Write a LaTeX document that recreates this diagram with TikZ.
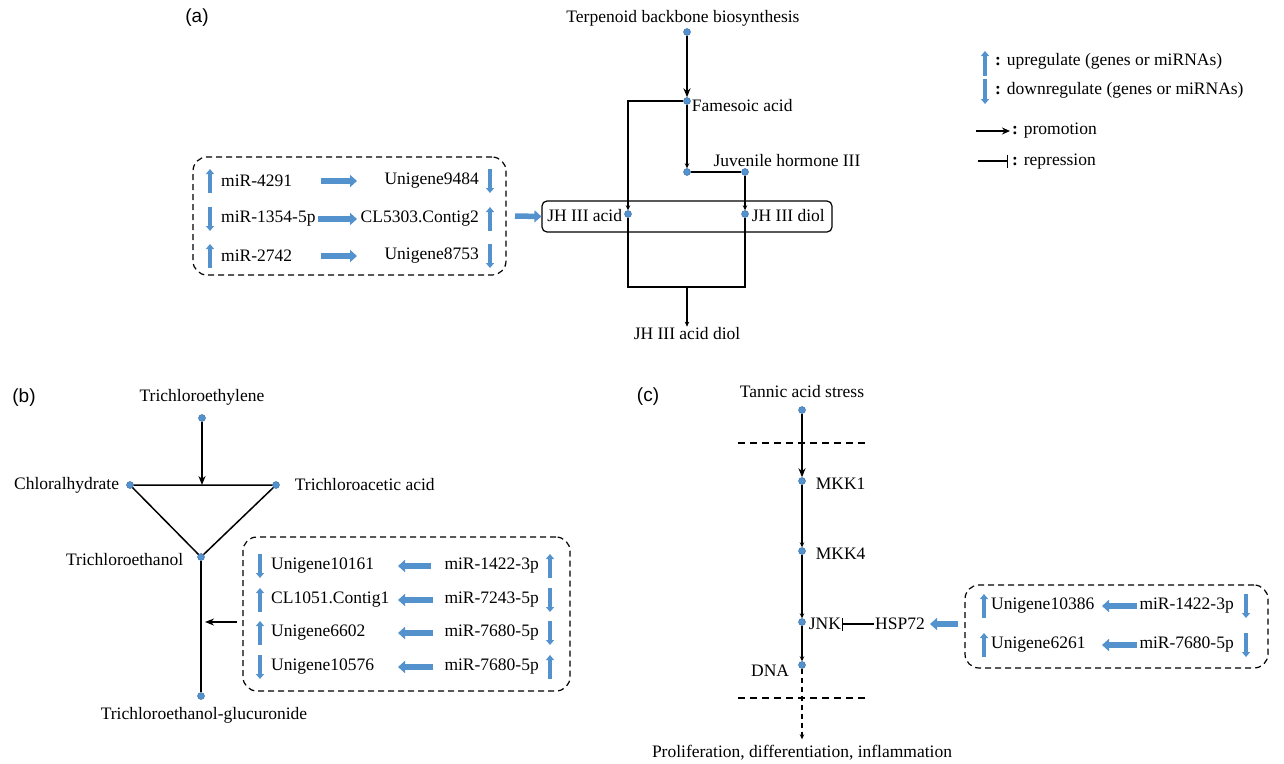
\documentclass[tikz,border=0pt]{standalone}
\usepackage{fontspec}
\setmainfont{Liberation Serif}
\newfontfamily\panelfont{Liberation Sans}
\usetikzlibrary{arrows.meta,positioning}
\definecolor{cblue}{RGB}{84,146,206}
\definecolor{cblueline}{RGB}{52,104,160}
\tikzset{
  pathway/.style={x=1pt,y=-1pt,font=\fontsize{17.5}{20}\selectfont},
  met/.style={circle,fill=cblue,draw=cblueline,line width=0.4pt,inner sep=0pt,minimum size=7pt},
  lab/.style={inner sep=1pt},
  panel/.style={font=\panelfont\fontsize{19}{22}\selectfont,inner sep=0pt},
  conv/.style={line width=1.2pt,-{Stealth[length=5pt,width=4.5pt]}},
  conv main/.style={line width=2pt,-{Stealth[length=9pt,width=7pt]}},
  plain/.style={line width=1.3pt},
  regarr/.style={cblue,line width=4.5pt,-{Triangle[length=5pt,width=8pt]}},
  mirarr/.style={cblue,line width=5.5pt,-{Triangle[length=7pt,width=12pt]}},
  mirbox/.style={draw,line width=1.2pt,dash pattern=on 6pt off 4pt,rounded corners=14pt},
  inhib/.style={line width=1.3pt,-{Bar[width=13pt]}},
  dashline/.style={line width=1.3pt,dash pattern=on 7pt off 5pt},
}

\begin{document}
\begin{tikzpicture}[pathway]
  \useasboundingbox (0,0) rectangle (1284,763);

  % (a) juvenile hormone
  \node[panel] (pa) at (197,18) {(a)};
  \node[met] (terp) at (687,32) {};
  \node[lab,above=1pt of terp,xshift=-4pt] (terpl) {Terpenoid backbone biosynthesis};
  \node[met] (fame) at (687,101) {};
  \node[lab,right=0pt of fame,yshift=-5pt] (famel) {Famesoic acid};
  \node[met] (jh0) at (687,172) {};
  \node[met] (jh) at (745,172) {};
  \node[lab,above=0pt of jh,xshift=42pt] (jhl) {Juvenile hormone III};
  \node[draw,line width=1.2pt,rounded corners=5pt,minimum width=290pt,minimum height=31pt] (jhbox) at (687,216.5) {};
  \node[met] (acid) at (628,214) {};
  \node[met] (diol) at (745,214) {};
  \node[lab,left=1pt of acid,yshift=-2pt] (acidl) {JH III acid};
  \node[lab,right=2pt of diol,yshift=-2pt] (diolal) {JH III diol};
  \coordinate (fameL) at (628,101);
  \coordinate (accL) at (628,287);
  \coordinate (accR) at (745,287);
  \coordinate (accM) at (687,287);
  \node[lab] (acdiol) at (687,334) {JH III acid diol};
  \draw[conv main] (terp) -- (fame);
  \draw[conv] (fame) -- (fameL) -- (acid);
  \draw[conv] (fame) -- (jh0);
  \draw[plain] (jh0) -- (jh);
  \draw[conv] (jh) -- (diol);
  \draw[plain] (acid) -- (accL) -- (accR) -- (diol);
  \draw[conv] (accM) -- (acdiol);

  \node[mirbox,minimum width=313pt,minimum height=118pt] (boxa) at (349.5,216) {};
  \foreach \y/\s/\mir/\t/\gene/\ax [count=\i] in
      {181/1/miR-4291/-1/Unigene9484/321,
       219/-1/miR-1354-5p/1/CL5303.Contig2/318,
       256/1/miR-2742/-1/Unigene8753/321}{
    \draw[regarr] (210,\y+12*\s) -- (210,\y-12*\s);
    \node[lab,anchor=west] (amir\i) at (220,\y) {\mir};
    \node[lab,anchor=east] (agene\i) at (480,\y) {\gene};
    \draw[regarr] (490,\y+12*\t) -- (490,\y-12*\t);
    \draw[mirarr] (\ax,\y) -- (357,\y);
  }
  \coordinate (ain) at (515,216);
  \draw[mirarr] (ain) -- (jhbox.west);

  % legend
  \draw[regarr] (985,76) -- (985,51);
  \node[lab,anchor=west] (lgup) at (994,61) {\textbf{:} upregulate (genes or miRNAs)};
  \draw[regarr] (985,79) -- (985,104);
  \node[lab,anchor=west] (lgdn) at (994,90) {\textbf{:} downregulate (genes or miRNAs)};
  \coordinate (lgp0) at (976,131);
  \coordinate (lgp1) at (1010,131);
  \draw[line width=1.8pt,-{Stealth[length=8pt,width=7pt]}] (lgp0) -- (lgp1);
  \node[lab,anchor=west] (lgpro) at (1011,131) {\textbf{:} promotion};
  \coordinate (lgr0) at (978,161);
  \coordinate (lgr1) at (1008,161);
  \draw[inhib] (lgr0) -- (lgr1);
  \node[lab,anchor=west] (lgrep) at (1011,162) {\textbf{:} repression};

  % (b) trichloroethylene
  \node[panel] (pb) at (24,398) {(b)};
  \node[met] (tce) at (202,418) {};
  \node[lab,above=8pt of tce] (tcel) {Trichloroethylene};
  \node[met] (chl) at (130,485) {};
  \node[met] (tca) at (276,485) {};
  \node[met] (tcoh) at (201,557) {};
  \node[met] (glu) at (201,696) {};
  \node[lab,left=6pt of chl] (chll) {Chloralhydrate};
  \node[lab,right=14pt of tca] (tcal) {Trichloroacetic acid};
  \node[lab,left=13pt of tcoh,yshift=-3pt] (tcohl) {Trichloroethanol};
  \node[lab,below=6pt of glu,xshift=3pt] (glul) {Trichloroethanol-glucuronide};
  \coordinate (tri) at (202,485);
  \draw[conv main] (tce) -- (tri);
  \draw[line width=1.5pt,line join=miter] (chl) -- (tca) -- (tcoh) -- (chl);
  \draw[line width=1.8pt] (tcoh) -- (glu);

  \node[mirbox,minimum width=327pt,minimum height=154pt] (boxb) at (406.5,614) {};
  \foreach \y/\t/\gene/\s/\mir/\ax [count=\i] in
      {566/-1/Unigene10161/1/miR-1422-3p/431,
       600/1/CL1051.Contig1/-1/miR-7243-5p/433,
       633/1/Unigene6602/-1/miR-7680-5p/433,
       667/-1/Unigene10576/1/miR-7680-5p/433}{
    \draw[regarr] (260,\y+12*\t) -- (260,\y-12*\t);
    \node[lab,anchor=west] (bgene\i) at (270,\y) {\gene};
    \node[lab,anchor=east] (bmir\i) at (540,\y) {\mir};
    \draw[regarr] (550,\y+12*\s) -- (550,\y-12*\s);
    \draw[mirarr] (\ax,\y) -- (398,\y);
  }
  \coordinate (bin) at (237,622);
  \coordinate (bhit) at (201,622);
  \draw[conv main,shorten >=4pt] (bin) -- (bhit);

  % (c) tannic acid
  \node[panel] (pc) at (648,397) {(c)};
  \node[met] (tan) at (802,410) {};
  \node[lab,above=7pt of tan] (tanl) {Tannic acid stress};
  \node[met] (mkk1) at (802,481) {};
  \node[met] (mkk4) at (802,551) {};
  \node[met] (jnk) at (802,622) {};
  \node[met] (dna) at (802,665) {};
  \node[lab,right=9pt of mkk1,yshift=-3pt] (mkk1l) {MKK1};
  \node[lab,right=9pt of mkk4,yshift=-3pt] (mkk4l) {MKK4};
  \node[lab,right=2pt of jnk,yshift=-2pt] (jnkl) {JNK};
  \node[lab,left=8pt of dna,yshift=-6pt] (dnal) {DNA};
  \node[lab] (hsp) at (900,624) {HSP72};
  \node[lab] (prolif) at (802,753) {Proliferation, differentiation, inflammation};
  \draw[dashline] (738,443) -- (868,443);
  \draw[dashline] (738,698) -- (868,698);
  \draw[conv main] (tan) -- (mkk1);
  \draw[conv] (mkk1) -- (mkk4);
  \draw[conv] (mkk4) -- (jnk);
  \draw[conv] (jnk) -- (dna);
  \draw[conv,dash pattern=on 5pt off 4pt,shorten >=5pt] (dna) -- (prolif);
  \draw[inhib] (hsp) -- (jnkl);

  \node[mirbox,minimum width=303pt,minimum height=83pt] (boxc) at (1116.5,626.5) {};
  \foreach \y/\t/\gene/\s/\mir [count=\i] in
      {606/1/Unigene10386/-1/miR-1422-3p,
       645/1/Unigene6261/-1/miR-7680-5p}{
    \draw[regarr] (984,\y+12*\t) -- (984,\y-12*\t);
    \node[lab,anchor=west] (cgene\i) at (990,\y) {\gene};
    \node[lab,anchor=east] (cmir\i) at (1235,\y) {\mir};
    \draw[regarr] (1246,\y+12*\s) -- (1246,\y-12*\s);
    \draw[mirarr] (1137,\y) -- (1102,\y);
  }
  \coordinate (cin) at (958,624);
  \draw[mirarr,shorten >=4pt] (cin) -- (hsp);
\end{tikzpicture}
\end{document}
